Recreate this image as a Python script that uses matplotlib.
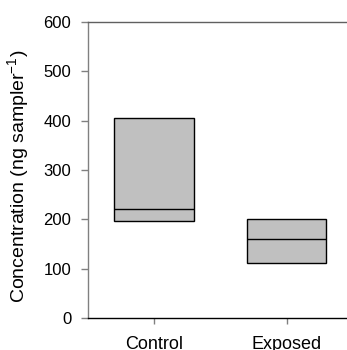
import matplotlib
matplotlib.use("Agg")
import matplotlib.pyplot as plt

plt.rcParams['font.family'] = ['Liberation Sans', 'DejaVu Sans']

groups = ["Control", "Exposed"]
q1 = [197, 112]
median = [220, 161]
q3 = [405, 201]

stats = []
for name, lo, med, hi in zip(groups, q1, median, q3):
    stats.append({"label": name, "q1": lo, "med": med, "q3": hi,
                  "whislo": lo, "whishi": hi})

fig = plt.figure(figsize=(3.47, 3.50), dpi=100)
ax = fig.add_axes([0.2536, 0.0914, 0.7464, 0.8457])

ax.bxp(stats, positions=[1, 2], widths=0.6, patch_artist=True,
       showcaps=False, showfliers=False,
       boxprops=dict(facecolor='#c0c0c0', edgecolor='black', linewidth=1.0),
       medianprops=dict(color='black', linewidth=1.0),
       whiskerprops=dict(linewidth=0))

ax.set_xlim(0.5, 2.455)
ax.set_ylim(0, 600)
ax.set_yticks([0, 100, 200, 300, 400, 500, 600])
ax.set_xticks([1, 2])
ax.set_xticklabels(groups)

ax.spines['right'].set_visible(False)
ax.spines['left'].set_color('#808080')
ax.spines['top'].set_color('#606060')
ax.spines['bottom'].set_color('black')
for sp in ax.spines.values():
    sp.set_linewidth(1.0)

ax.tick_params(axis='y', direction='out', length=5, width=1, color='#808080',
               labelsize=12, pad=7)
ax.tick_params(axis='x', direction='out', length=4, width=1, color='#808080',
               labelsize=13, pad=9)

ax.set_ylabel(r'Concentration (ng sampler$^{\mathregular{-1}}$)', fontsize=14)
ax.yaxis.set_label_coords(-0.215, 0.48)

fig.savefig("out.png", dpi=100)
